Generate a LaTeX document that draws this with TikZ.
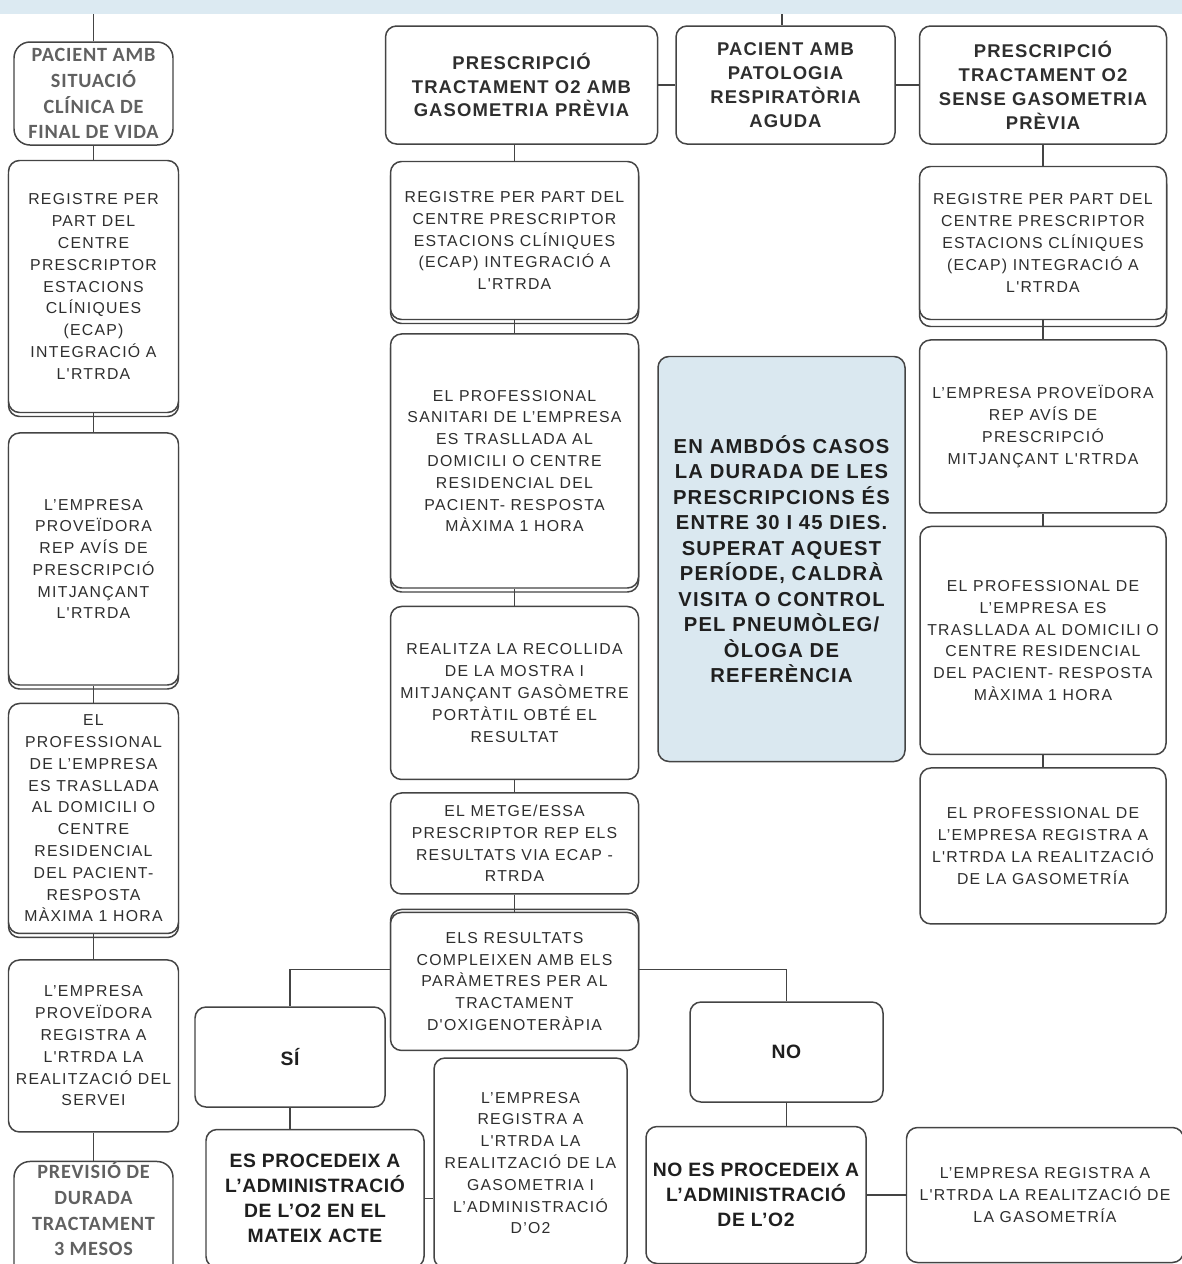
\documentclass[tikz,border=0pt]{standalone}
\usepackage{fontspec}
\usepackage{xcolor}
\usepackage{tikz}
\usetikzlibrary{positioning, shadows, calc}

\newfontfamily\boxfnt[LetterSpace=8]{Liberation Sans}
\newfontfamily\headfnt[LetterSpace=6]{Liberation Sans}
\newfontfamily\actfnt[LetterSpace=3]{Liberation Sans}
\newfontfamily\greyfnt[LetterSpace=4]{Carlito}

\definecolor{stripblue}{HTML}{DCEAF2}
\definecolor{noteblue}{HTML}{DAE8F0}
\definecolor{edgegray}{HTML}{444444}

\begin{document}
\begin{tikzpicture}[node distance=0.3cm,
    box/.style={rectangle, draw=edgegray, line width=0.85pt, fill=white, rounded corners=0.22cm, align=center, inner sep=0pt, text=black!82, font={\boxfnt\fontsize{9}{12.4}\selectfont}},
    head/.style={box, font={\headfnt\bfseries\fontsize{10.5}{13.6}\selectfont}},
    note/.style={box, fill=noteblue, text=black!88, font={\headfnt\bfseries\fontsize{11.5}{14.5}\selectfont}},
    act/.style={box, text=black!88, font={\actfnt\bfseries\fontsize{11}{14.2}\selectfont}},
    endbox/.style={box, rounded corners=0.32cm, text=black!62, font={\greyfnt\bfseries\fontsize{11.5}{14.7}\selectfont}},
    sz/.style 2 args={minimum width=#1, minimum height=#2},
    stacked/.style={copy shadow={shadow xshift=0pt, shadow yshift=#1, draw=edgegray, fill=white}},
    stacked/.default=-0.08cm,
    link/.style={draw=edgegray, line width=0.85pt}]

    \useasboundingbox (0,0) rectangle (23.64,-25.28);
    \fill[stripblue] (0,0) rectangle (23.64,-0.28);
    \coordinate (lin) at (1.87,-0.28);
    \coordinate (tin) at (15.64,-0.28);

    % left column
    \node [endbox, sz={3.18cm}{2.06cm}] (l1) at (1.87,-1.87) {PACIENT AMB\\SITUACIÓ\\CLÍNICA DE\\FINAL DE VIDA};
    \node [box, stacked, sz={3.4cm}{5.04cm}, below=0.28cm of l1] (l2) {REGISTRE PER\\PART DEL\\CENTRE\\PRESCRIPTOR\\ESTACIONS\\CLÍNIQUES\\(ECAP)\\INTEGRACIÓ A\\L'RTRDA};
    \node [box, stacked, sz={3.4cm}{5.04cm}, below=0.38cm of l2] (l3) {L’EMPRESA\\PROVEÏDORA\\REP AVÍS DE\\PRESCRIPCIÓ\\MITJANÇANT\\L'RTRDA};
    \node [box, stacked, sz={3.4cm}{4.6cm}, below=0.34cm of l3] (l4) {EL\\PROFESSIONAL\\DE L’EMPRESA\\ES TRASLLADA\\AL DOMICILI O\\CENTRE\\RESIDENCIAL\\DEL PACIENT-\\RESPOSTA\\MÀXIMA 1 HORA};
    \node [box, sz={3.4cm}{3.44cm}, below=0.5cm of l4] (l5) {L’EMPRESA\\PROVEÏDORA\\REGISTRA A\\L'RTRDA LA\\REALITZACIÓ DEL\\SERVEI};
    \node [endbox, sz={3.18cm}{2.2cm}, below=0.56cm of l5] (l6) {PREVISIÓ DE\\DURADA\\TRACTAMENT\\3 MESOS\\[0.5em]};

    % top row
    \node [head, sz={4.38cm}{2.36cm}] (top) at (15.71,-1.7) {PACIENT AMB\\PATOLOGIA\\RESPIRATÒRIA\\AGUDA};
    \node [head, sz={5.44cm}{2.36cm}, left=0.34cm of top] (m1) {PRESCRIPCIÓ\\TRACTAMENT O2 AMB\\GASOMETRIA PRÈVIA};
    \node [head, sz={4.94cm}{2.36cm}, right=0.46cm of top] (r1) {PRESCRIPCIÓ\\TRACTAMENT O2\\SENSE GASOMETRIA\\PRÈVIA};

    % middle column
    \node [box, stacked, sz={4.96cm}{3.16cm}, below=0.32cm of m1, xshift=-0.14cm] (m2) {REGISTRE PER PART DEL\\CENTRE PRESCRIPTOR\\ESTACIONS CLÍNIQUES\\(ECAP) INTEGRACIÓ A\\L'RTRDA};
    \node [box, stacked, sz={4.96cm}{5.08cm}, below=0.26cm of m2] (m3) {EL PROFESSIONAL\\SANITARI DE L’EMPRESA\\ES TRASLLADA AL\\DOMICILI O CENTRE\\RESIDENCIAL DEL\\PACIENT- RESPOSTA\\MÀXIMA 1 HORA};
    \node [box, sz={4.96cm}{3.46cm}, below=0.34cm of m3] (m4) {REALITZA LA RECOLLIDA\\DE LA MOSTRA I\\MITJANÇANT GASÒMETRE\\PORTÀTIL OBTÉ EL\\RESULTAT};
    \node [box, sz={4.96cm}{2.02cm}, below=0.24cm of m4] (m5) {EL METGE/ESSA\\PRESCRIPTOR REP ELS\\RESULTATS VIA ECAP -\\RTRDA};
    \node [box, stacked=0.06cm, sz={4.96cm}{2.76cm}, below=0.34cm of m5] (m6) {ELS RESULTATS\\COMPLEIXEN AMB ELS\\PARÀMETRES PER AL\\TRACTAMENT\\D'OXIGENOTERÀPIA};

    % right column
    \node [box, stacked=-0.14cm, sz={4.94cm}{3.06cm}, below=0.42cm of r1] (r2) {REGISTRE PER PART DEL\\CENTRE PRESCRIPTOR\\ESTACIONS CLÍNIQUES\\(ECAP) INTEGRACIÓ A\\L'RTRDA};
    \node [box, sz={4.94cm}{3.46cm}, below=0.38cm of r2] (r3) {L’EMPRESA PROVEÏDORA\\REP AVÍS DE\\PRESCRIPCIÓ\\MITJANÇANT L'RTRDA};
    \node [box, sz={4.92cm}{4.56cm}, below=0.24cm of r3] (r4) {EL PROFESSIONAL DE\\L’EMPRESA ES\\TRASLLADA AL DOMICILI O\\CENTRE RESIDENCIAL\\DEL PACIENT- RESPOSTA\\MÀXIMA 1 HORA};
    \node [box, sz={4.92cm}{3.12cm}, below=0.24cm of r4] (r5) {EL PROFESSIONAL DE\\L’EMPRESA REGISTRA A\\L'RTRDA LA REALITZACIÓ\\DE LA GASOMETRÍA};

    \node [note, sz={4.94cm}{8.1cm}, below=4.22cm of top, xshift=-0.08cm] (nota) {EN AMBDÓS CASOS\\LA DURADA DE LES\\PRESCRIPCIONS ÉS\\ENTRE 30 I 45 DIES.\\SUPERAT AQUEST\\PERÍODE, CALDRÀ\\VISITA O CONTROL\\PEL PNEUMÒLEG/\\ÒLOGA DE\\REFERÈNCIA};

    % decision
    \node [act, sz={3.8cm}{2cm}] (si) at (5.8,-21.14) {SÍ};
    \node [act, sz={4.36cm}{2.76cm}, below=0.42cm of si, xshift=0.5cm] (siact) {ES PROCEDEIX A\\L’ADMINISTRACIÓ\\DE L’O2 EN EL\\MATEIX ACTE};
    \node [box, sz={3.86cm}{4.2cm}] (sireg) at (10.61,-23.26) {L’EMPRESA\\REGISTRA A\\L'RTRDA LA\\REALITZACIÓ DE LA\\GASOMETRIA I\\L’ADMINISTRACIÓ\\D’O2};
    \node [act, sz={3.86cm}{2cm}] (no) at (15.73,-21.04) {NO};
    \node [act, sz={4.4cm}{2.74cm}, below=0.46cm of no, xshift=-0.61cm] (noact) {NO ES PROCEDEIX A\\L’ADMINISTRACIÓ\\DE L’O2};
    \node [box, sz={5.54cm}{2.7cm}, right=0.78cm of noact] (noreg) {L’EMPRESA REGISTRA A\\L'RTRDA LA REALITZACIÓ DE\\LA GASOMETRÍA};

    \draw [link] (lin) -- (l1);
    \draw [link] (l1) -- (l2);
    \draw [link] (l2) -- (l3);
    \draw [link] (l3) -- (l4);
    \draw [link] (l4) -- (l5);
    \draw [link] (l5) -- (l6);
    \draw [link] (tin) -- (tin |- top.north);
    \draw [link] (top) -- (m1);
    \draw [link] (top) -- (r1);
    \draw [link] (m2.north) -- (m2.north |- m1.south);
    \draw [link] (m2) -- (m3);
    \draw [link] (m3) -- (m4);
    \draw [link] (m4) -- (m5);
    \draw [link] (m5) -- (m6);
    \draw [link] (r1) -- (r2);
    \draw [link] (r2) -- (r3);
    \draw [link] (r3) -- (r4);
    \draw [link] (r4) -- (r5);
    \draw [link] ([yshift=0.24cm]m6.west) -| (si.north);
    \draw [link] ([yshift=0.24cm]m6.east) -| (no.north);
    \draw [link] (si.south) -- (si.south |- siact.north);
    \draw [link] (siact.east) -- (siact.east -| sireg.west);
    \draw [link] (no.south) -- (no.south |- noact.north);
    \draw [link] (noact.east) -- (noact.east -| noreg.west);
\end{tikzpicture}
\end{document}
